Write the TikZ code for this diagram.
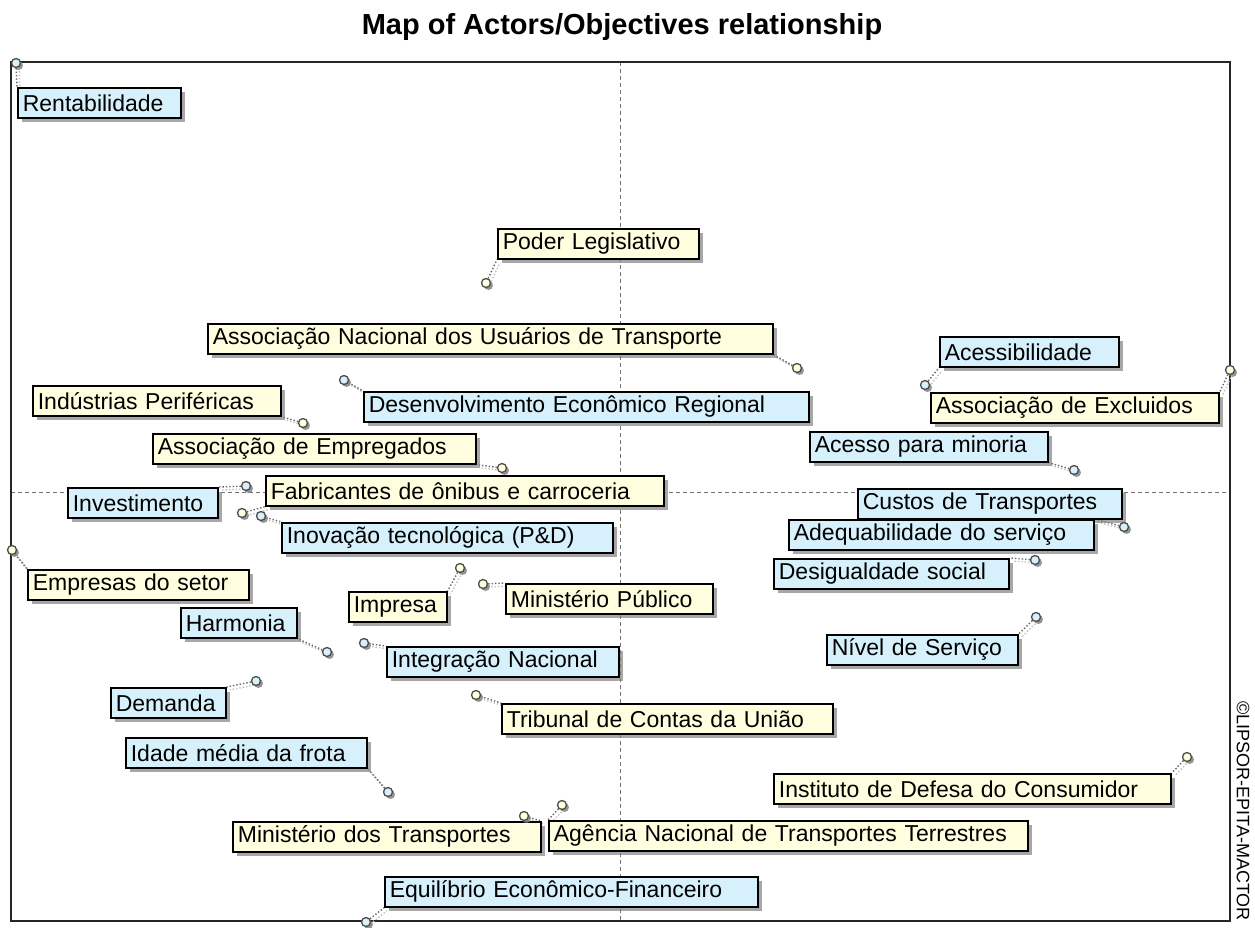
\documentclass[tikz,border=0pt]{standalone}
\usepackage{fontspec}
\setmainfont{Liberation Sans}
\usetikzlibrary{shadows}
\pgfdeclarelayer{bg}\pgfdeclarelayer{mid}\pgfsetlayers{bg,mid,main}
\definecolor{objblue}{RGB}{214,240,252}
\definecolor{actyel}{RGB}{255,255,224}
\definecolor{shadowgray}{RGB}{130,130,130}
\tikzset{
 labbox/.style={draw=black, line width=1.7pt, anchor=north west, minimum height=30pt,
   inner xsep=5pt, inner ysep=0pt, align=left, font=\fontsize{23}{26}\selectfont,
   general shadow={fill=shadowgray, shadow xshift=4pt, shadow yshift=-4pt, opacity=0.7}},
 obj/.style={labbox, fill=objblue},
 act/.style={labbox, fill=actyel},
 pin/.style={circle, draw=black!70, line width=1.3pt, inner sep=0pt, minimum size=9pt,
   general shadow={fill=shadowgray, shadow xshift=2.5pt, shadow yshift=-2.5pt, opacity=0.85}},
 opin/.style={pin, fill=objblue},
 apin/.style={pin, fill=actyel},
 leader/.style={draw=black!60, dotted, line width=1.4pt},
 leadsh/.style={draw=black!25, dotted, line width=1.4pt, transform canvas={xshift=3pt,yshift=-3pt}},
 frameline/.style={draw=black!85, line width=1.8pt},
 axisline/.style={draw=black!55, dash pattern=on 4pt off 3pt, line width=1pt},
}
\newcommand\lab[6]{\pgfmathsetmacro\tw{#5-10}\node[#1, text width=\tw pt] (#2) at (#3,#4) {#6};}
\newcommand\lead[2]{\draw[leadsh] (#1) -- (#2);\draw[leader] (#1) -- (#2);}
\begin{document}
\begin{tikzpicture}[x=1pt,y=-1pt]
\useasboundingbox (0,0) rectangle (1255,928);
\node[font=\bfseries\fontsize{29}{32}\selectfont] (title) at (622,27) {Map of Actors/Objectives relationship};
\begin{pgfonlayer}{bg}
\draw[axisline] (620,62) -- (620,921);
\draw[axisline] (11,492) -- (1230,492);
\draw[frameline] (11,62) rectangle (1230,921);
\end{pgfonlayer}
\node[rotate=-90, font=\fontsize{18}{20}\selectfont] (copy) at (1243,811) {©LIPSOR-EPITA-MACTOR};
% labels
\lab{obj}{rent}{17}{87}{163}{Rentabilidade}
\lab{act}{poder}{497}{228}{201}{Poder Legislativo}
\lab{act}{anut}{207}{323}{565}{Associação Nacional dos Usuários de Transporte}
\lab{obj}{desenv}{363}{391}{445}{Desenvolvimento Econômico Regional}
\lab{obj}{acess}{939}{336}{179}{Acessibilidade}
\lab{act}{exclu}{930}{392}{288}{Associação de Excluidos}
\lab{act}{indus}{32}{385}{248}{Indústrias Periféricas}
\lab{act}{empreg}{152}{433}{323}{Associação de Empregados}
\lab{obj}{minoria}{809}{431}{238}{Acesso para minoria}
\lab{obj}{invest}{67}{487}{150}{Investimento}
\lab{act}{fabric}{265}{475}{398}{Fabricantes de ônibus e carroceria}
\lab{obj}{inov}{281}{522}{331}{Inovação tecnológica (P\&D)}
\lab{obj}{custos}{857}{488}{264}{Custos de Transportes}
\lab{obj}{adeq}{788}{519}{305}{Adequabilidade do serviço}
\lab{obj}{desig}{773}{558}{235}{Desigualdade social}
\lab{act}{empresas}{27}{569}{221}{Empresas do setor}
\lab{obj}{harm}{180}{607}{116}{Harmonia}
\lab{act}{impresa}{348}{591}{98}{Impresa}
\lab{act}{mpub}{505}{583}{207}{Ministério Público}
\lab{obj}{integ}{386}{646}{232}{Integração Nacional}
\lab{act}{tcu}{501}{703}{331}{Tribunal de Contas da União}
\lab{obj}{nivel}{826}{634}{191}{Nível de Serviço}
\lab{obj}{demanda}{110}{687}{115}{Demanda}
\lab{obj}{idade}{125}{737}{241}{Idade média da frota}
\lab{act}{idec}{773}{773}{397}{Instituto de Defesa do Consumidor}
\lab{act}{mtransp}{232}{821}{308}{Ministério dos Transportes}
\lab{act}{antt}{548}{820}{479}{Agência Nacional de Transportes Terrestres}
\lab{obj}{equil}{384}{876}{373}{Equilíbrio Econômico-Financeiro}
% pins
\node[opin] (p-rent) at (16,63) {};
\node[apin] (p-poder) at (486,283) {};
\node[apin] (p-anut) at (797,368) {};
\node[opin] (p-desenv) at (344,380) {};
\node[opin] (p-acess) at (925,385) {};
\node[apin] (p-exclu) at (1230,370) {};
\node[apin] (p-indus) at (303,423) {};
\node[apin] (p-empreg) at (502,468) {};
\node[opin] (p-minoria) at (1074,470) {};
\node[opin] (p-invest) at (246,486) {};
\node[apin] (p-fabric) at (242,513) {};
\node[opin] (p-inov) at (261,516) {};
\node[opin] (p-adeq) at (1124,527) {};
\node[opin] (p-desig) at (1035,560) {};
\node[apin] (p-empresas) at (12,550) {};
\node[opin] (p-harm) at (327,652) {};
\node[apin] (p-impresa) at (460,568) {};
\node[apin] (p-mpub) at (483,584) {};
\node[opin] (p-integ) at (364,643) {};
\node[apin] (p-tcu) at (476,695) {};
\node[opin] (p-nivel) at (1036,617) {};
\node[opin] (p-demanda) at (256,681) {};
\node[opin] (p-idade) at (388,792) {};
\node[apin] (p-idec) at (1187,757) {};
\node[apin] (p-mtransp) at (524,816) {};
\node[apin] (p-antt) at (562,805) {};
\node[opin] (p-equil) at (366,922) {};
\begin{pgfonlayer}{mid}
\lead{p-rent}{rent.north west}
\lead{p-poder}{poder.south west}
\lead{p-anut}{anut.south east}
\lead{p-desenv}{desenv.north west}
\lead{p-acess}{acess.south west}
\lead{p-exclu}{exclu.north east}
\lead{p-indus}{indus.south east}
\lead{p-empreg}{empreg.south east}
\lead{p-minoria}{minoria.south east}
\lead{p-invest}{invest.north east}
\lead{p-fabric}{fabric.south west}
\lead{p-inov}{inov.north west}
\lead{p-adeq}{adeq.north east}
\lead{p-desig}{desig.north east}
\lead{p-empresas}{empresas.north west}
\lead{p-harm}{harm.south east}
\lead{p-impresa}{impresa.north east}
\lead{p-mpub}{mpub.north west}
\lead{p-integ}{integ.north west}
\lead{p-tcu}{tcu.north west}
\lead{p-nivel}{nivel.north east}
\lead{p-demanda}{demanda.north east}
\lead{p-idade}{idade.south east}
\lead{p-idec}{idec.north east}
\lead{p-mtransp}{mtransp.north east}
\lead{p-antt}{antt.north west}
\lead{p-equil}{equil.south west}
\end{pgfonlayer}
\end{tikzpicture}
\end{document}
